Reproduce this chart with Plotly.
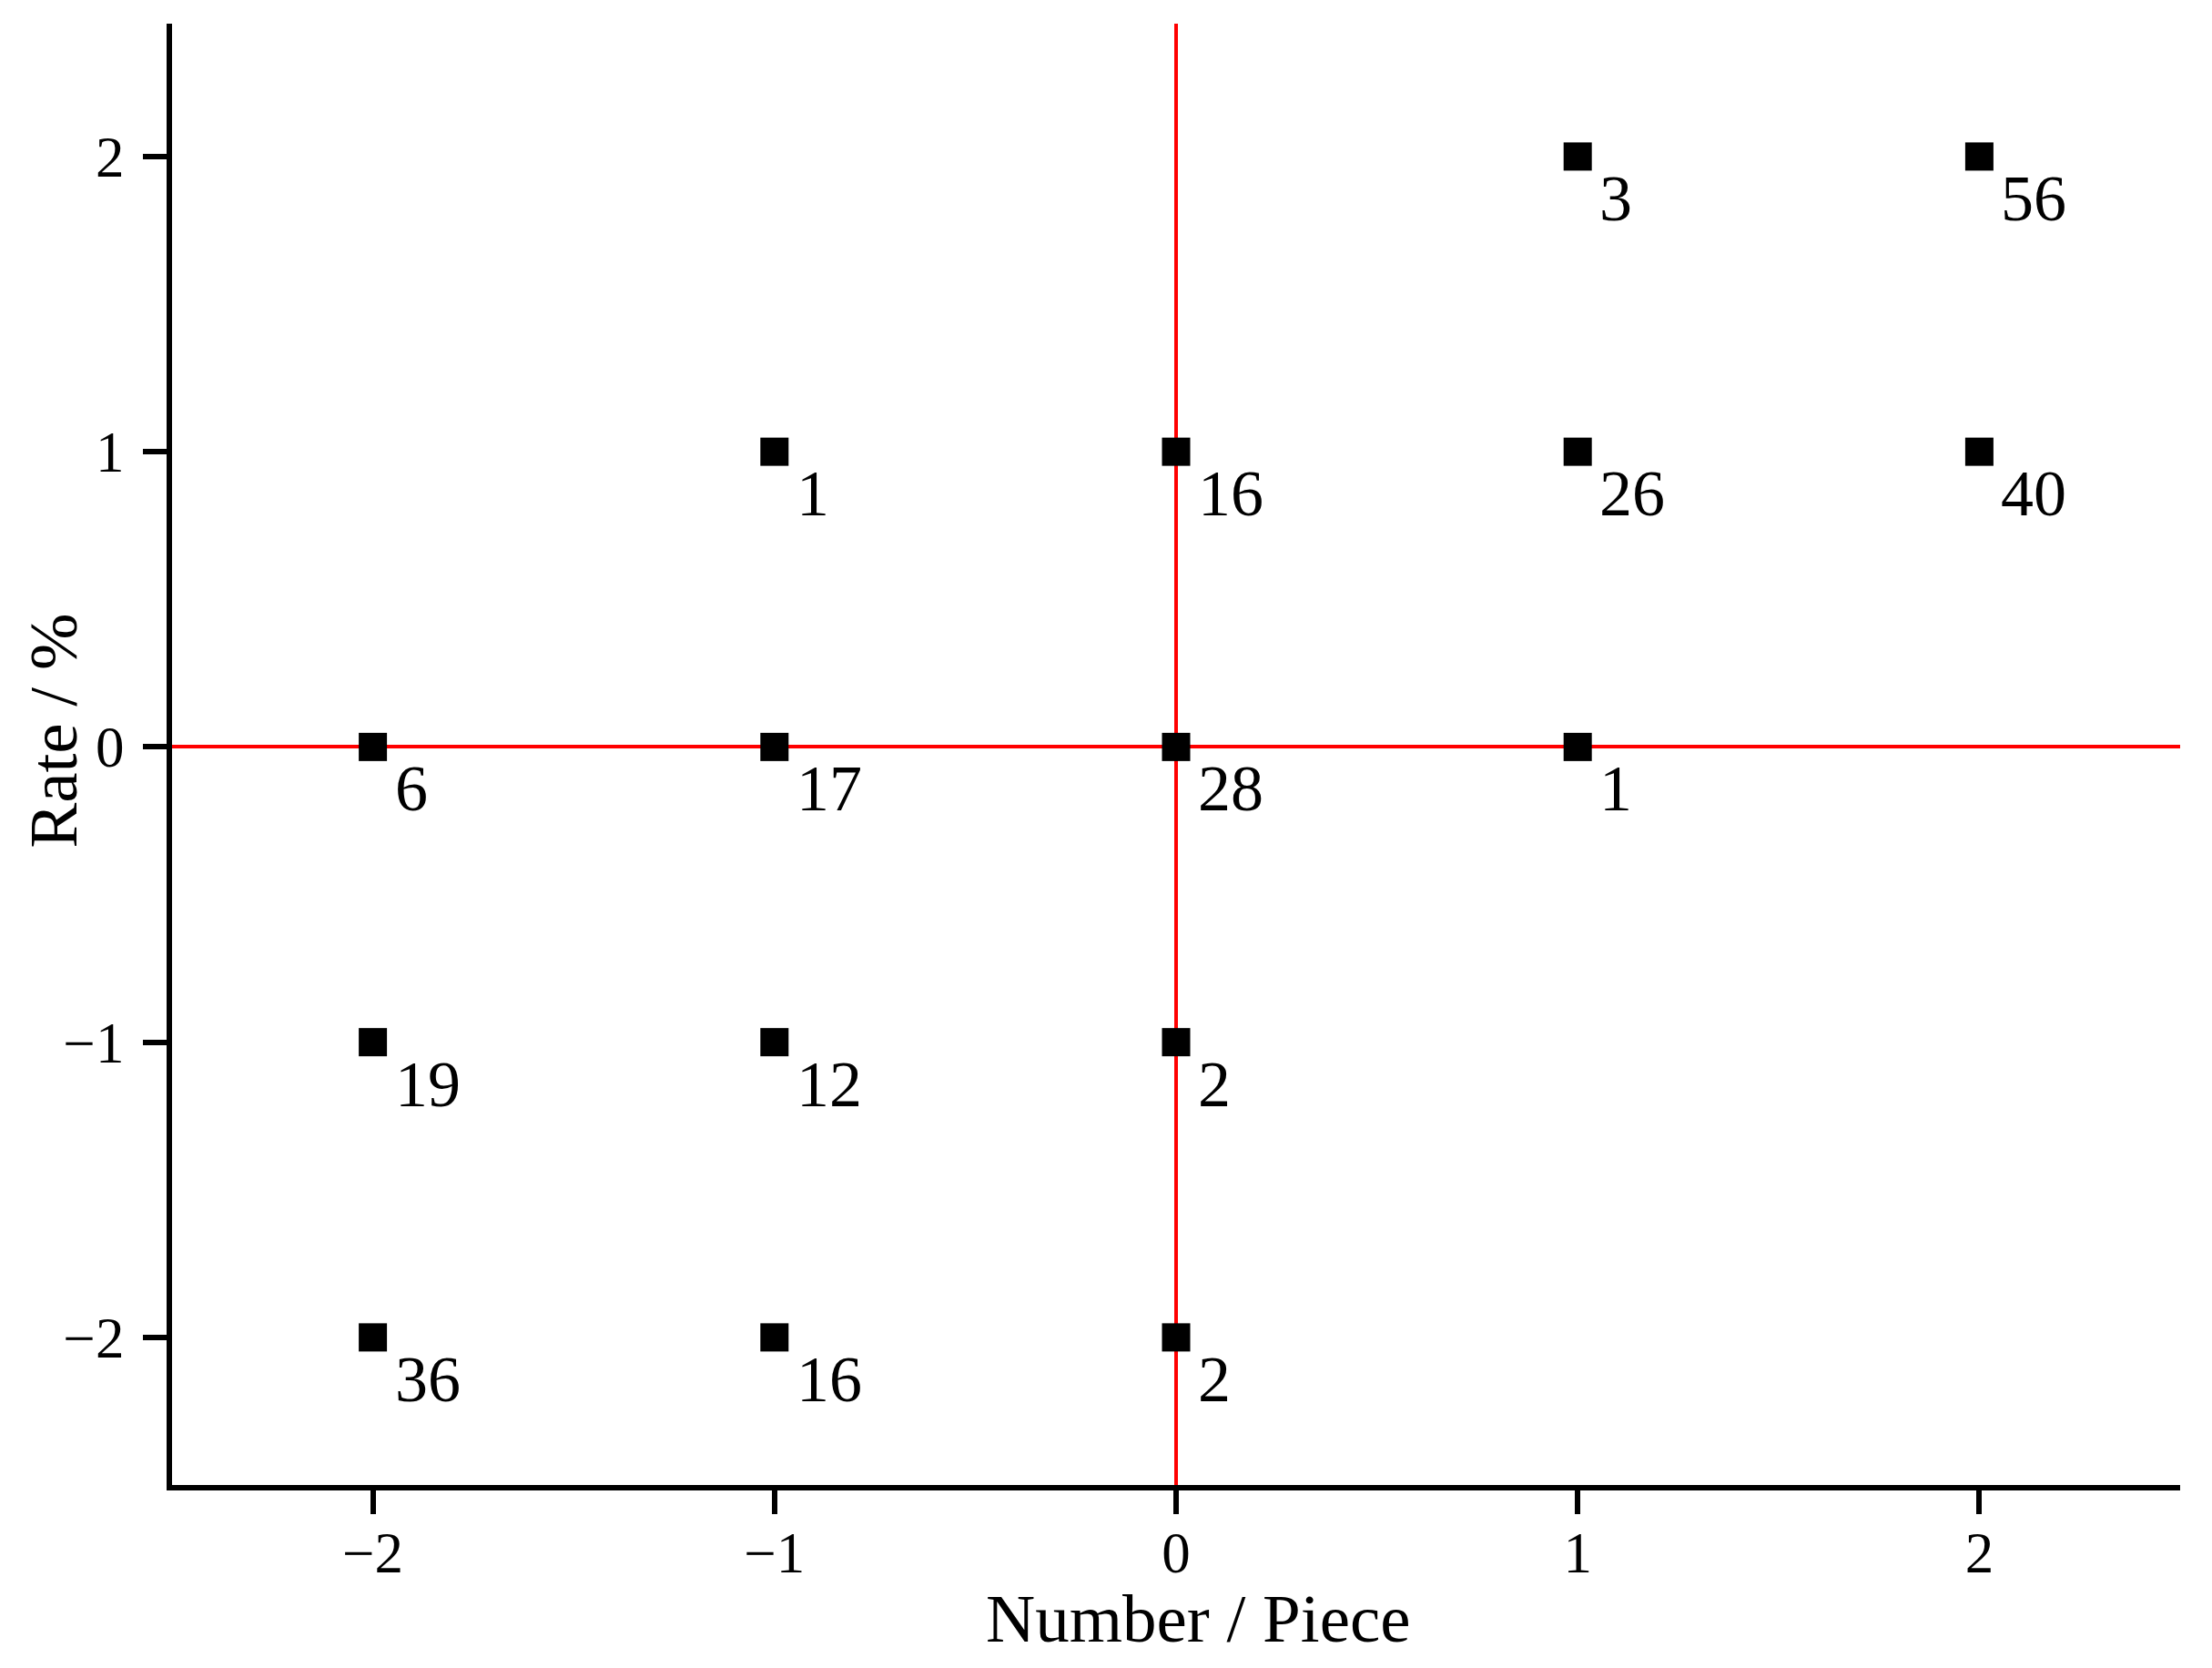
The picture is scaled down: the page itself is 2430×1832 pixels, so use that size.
"""Scatter of counts on a Number / Rate grid with red zero cross-hairs."""

import plotly.graph_objects as go

number_piece = [-2, -1, 0, 1, -1, 0, 1, 2, 1, 2, -2, -1, 0, -2, -1, 0]
rate_pct = [0, 0, 0, 0, 1, 1, 1, 1, 2, 2, -1, -1, -1, -2, -2, -2]
counts = [6, 17, 28, 1, 1, 16, 26, 40, 3, 56, 19, 12, 2, 36, 16, 2]

tick_vals = [-2, -1, 0, 1, 2]

FONT = "Liberation Serif, Times New Roman, serif"


def build_grid_chart() -> go.Figure:
    fig = go.Figure(
        go.Scatter(
            x=number_piece,
            y=rate_pct,
            mode="markers",
            marker=dict(symbol="square", size=31, color="black", line=dict(width=0)),
            showlegend=False,
            hoverinfo="skip",
        )
    )

    # count labels sit below-right of each square
    for x, y, n in zip(number_piece, rate_pct, counts):
        fig.add_annotation(
            x=x,
            y=y,
            text=str(n),
            showarrow=False,
            xanchor="left",
            yanchor="middle",
            xshift=22,
            yshift=-46,
            font=dict(family=FONT, size=72, color="black"),
        )

    # axis titles as annotations so they can sit slightly off-centre like the original
    fig.add_annotation(
        text="Number / Piece",
        xref="paper",
        yref="paper",
        x=0.511,
        y=0,
        xanchor="center",
        yanchor="middle",
        yshift=-146,
        showarrow=False,
        font=dict(family=FONT, size=75, color="black"),
    )
    fig.add_annotation(
        text="Rate / %",
        xref="paper",
        yref="paper",
        x=0,
        y=0.516,
        xanchor="center",
        yanchor="middle",
        xshift=-130,
        textangle=-90,
        showarrow=False,
        font=dict(family=FONT, size=75, color="black"),
    )

    axis_common = dict(
        showline=True,
        linewidth=6,
        linecolor="black",
        mirror=False,
        showgrid=False,
        zeroline=True,
        zerolinecolor="#ff0000",
        zerolinewidth=4,
        ticks="outside",
        ticklen=26,
        tickwidth=6,
        tickcolor="black",
        tickvals=tick_vals,
        tickfont=dict(family=FONT, size=63, color="black"),
        automargin=False,
    )

    fig.update_layout(
        width=2430,
        height=1832,
        paper_bgcolor="white",
        plot_bgcolor="white",
        margin=dict(l=181, r=43, t=18, b=209),
        xaxis=dict(range=[-2.5, 2.5], ticklabelstandoff=-12, **axis_common),
        yaxis=dict(range=[-2.5, 2.45], ticklabelstandoff=8, **axis_common),
    )
    return fig


fig = build_grid_chart()
fig.write_html("out.html")
